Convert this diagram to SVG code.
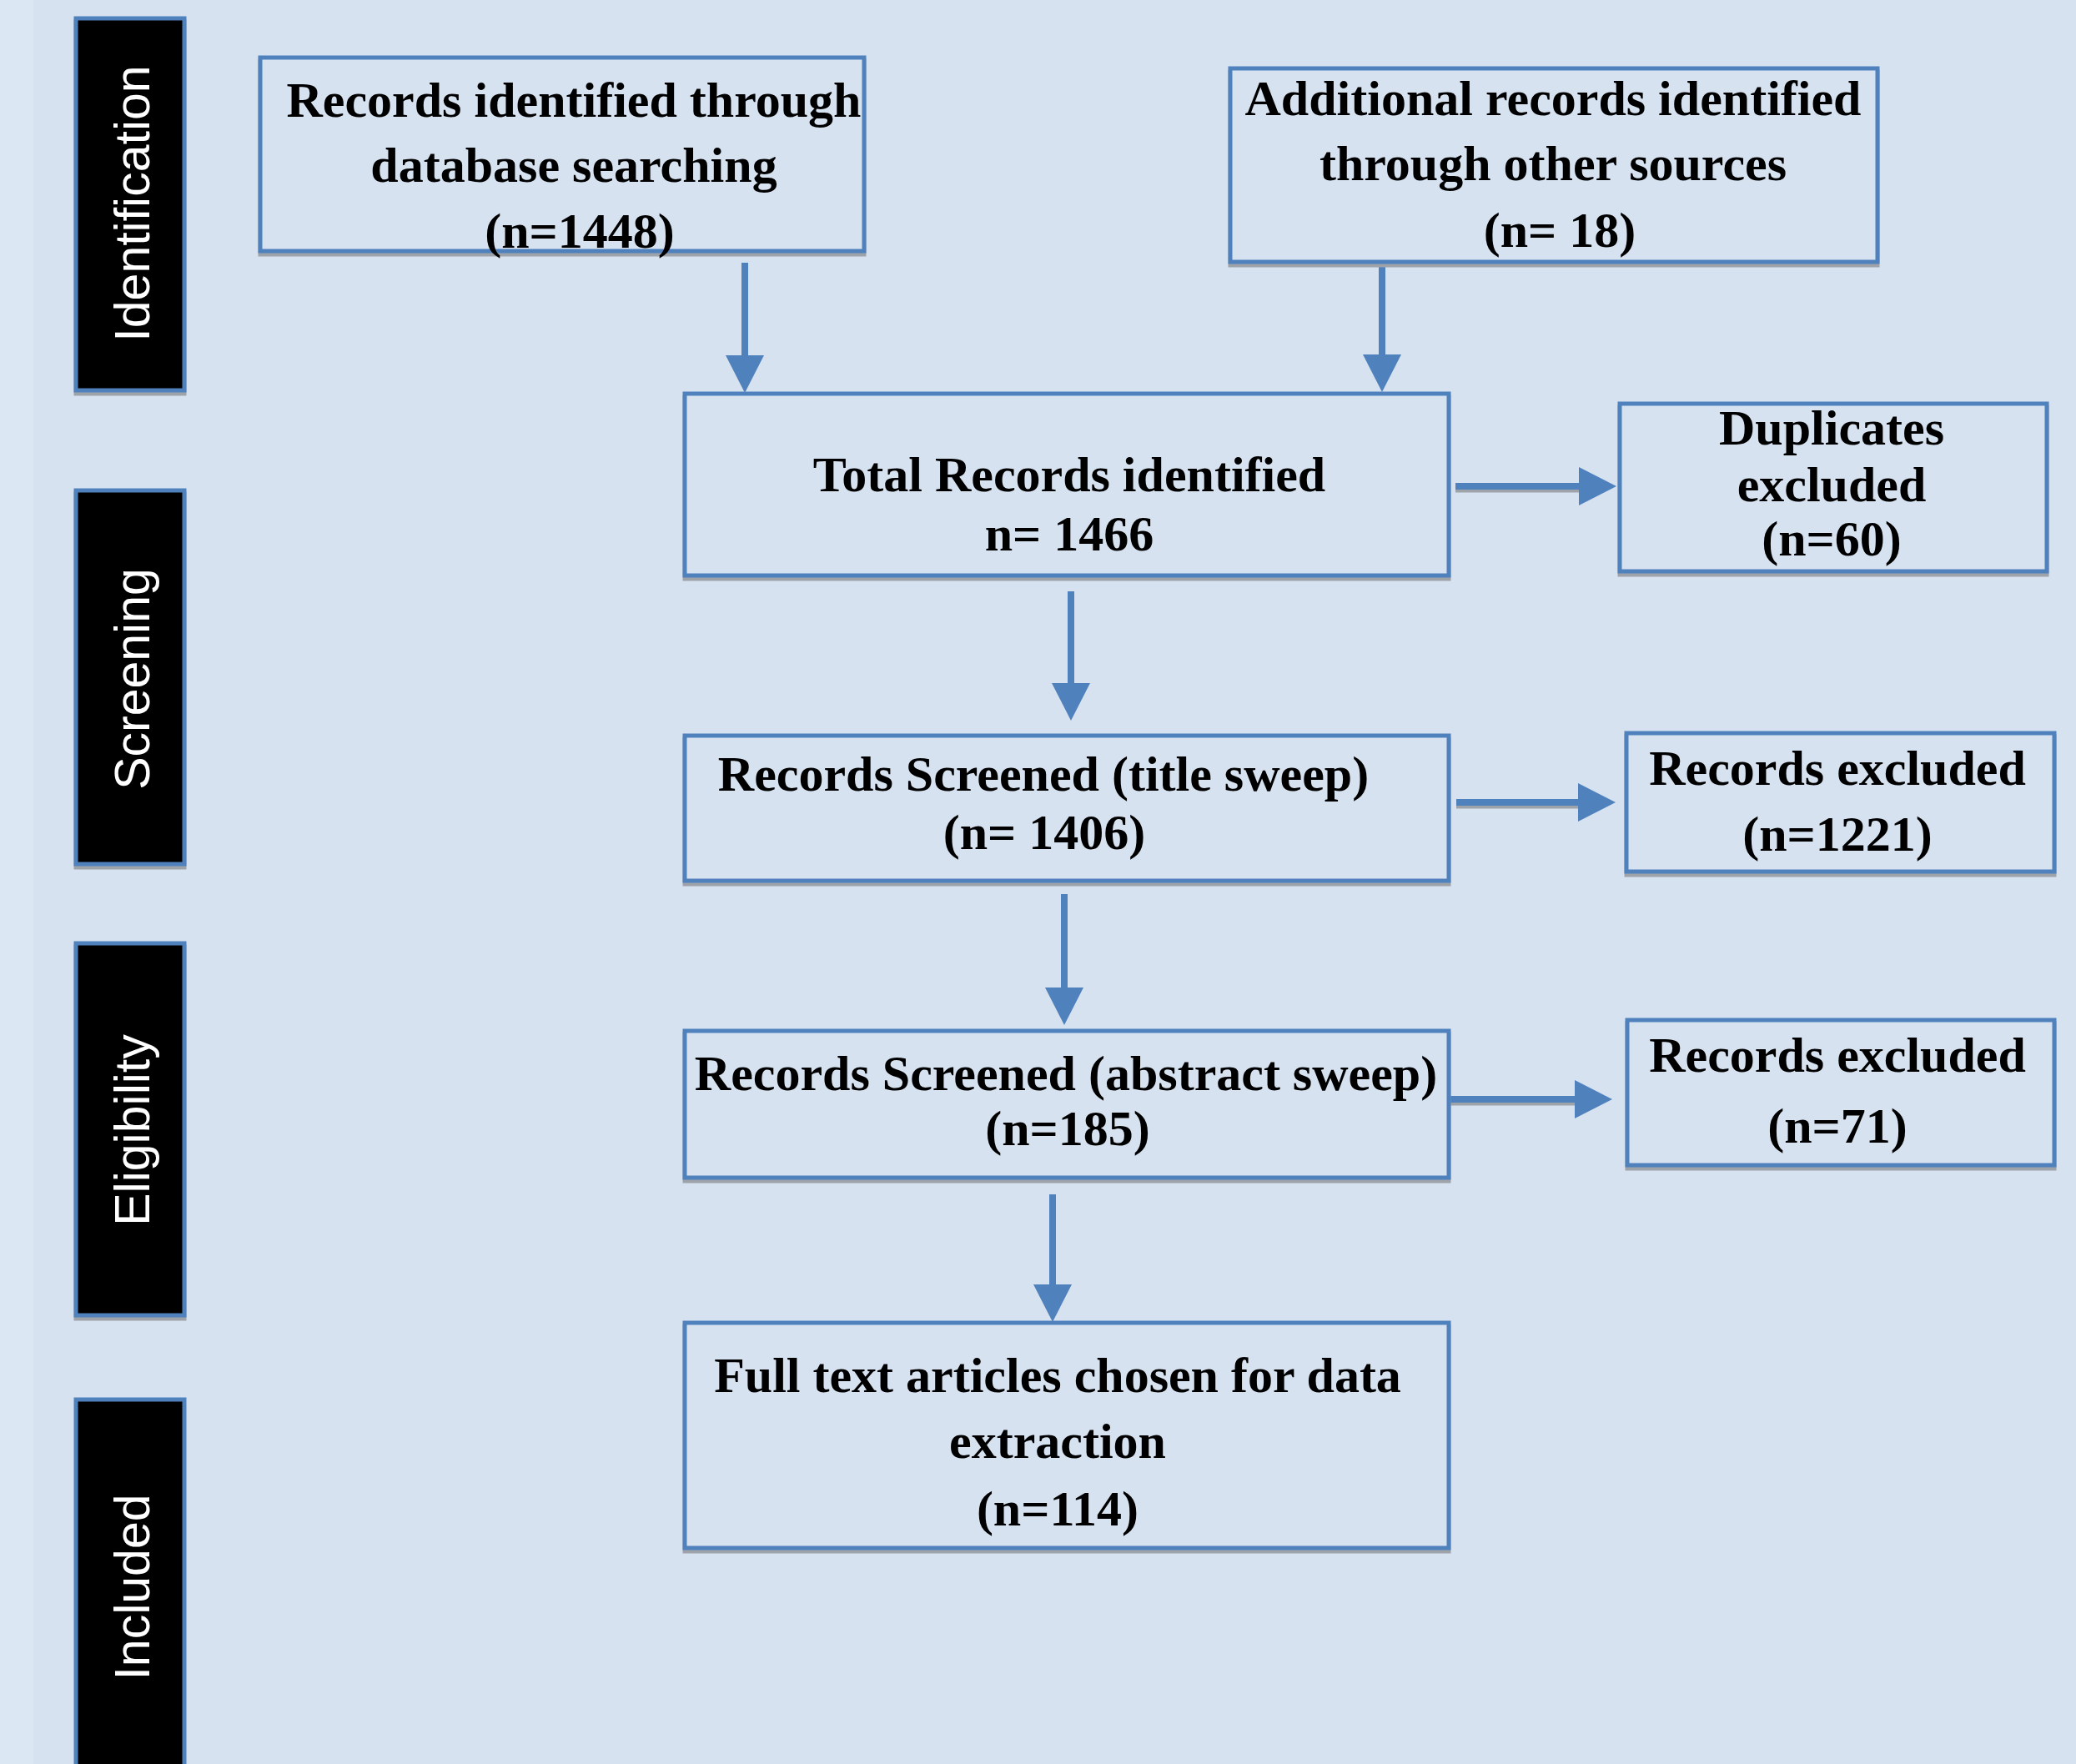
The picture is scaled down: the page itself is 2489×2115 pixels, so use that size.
<svg xmlns="http://www.w3.org/2000/svg" width="2489" height="2115" viewBox="0 0 2489 2115">
<defs>
<style>
.bg{fill:#D7E2F0}
.strip{fill:#DCE7F4}
.box{fill:#D7E2F0;stroke:#4F81BD;stroke-width:5}
.shadow{fill:none;stroke:#9EA3AA;stroke-width:5}
.bar{fill:#000000;stroke:#4F81BD;stroke-width:5}
.bartxt{font-family:"Liberation Sans",Arial,sans-serif;font-size:59px;fill:#FFFFFF;text-anchor:middle}
.t{font-family:"Liberation Serif","Times New Roman",serif;font-weight:bold;font-size:60px;fill:#000000;text-anchor:middle}
.conn{stroke:#4F81BD;stroke-width:8;fill:none}
.connsh{stroke:#9EA3AA;stroke-width:5;fill:none}
</style>
<marker id="ah" markerUnits="userSpaceOnUse" markerWidth="46" markerHeight="48" refX="0" refY="24" orient="auto" viewBox="0 0 46 48">
<path d="M0,1 L45,24 L0,47 z" fill="#4F81BD"/>
</marker>
</defs>
<rect class="bg" x="0" y="0" width="2489" height="2115"/>
<rect class="strip" x="0" y="0" width="40" height="2115"/>

<g id="bar-identification">
<rect class="shadow" x="91" y="26" width="130" height="446"/>
<rect class="bar" x="91" y="22" width="130" height="446"/>
<text class="bartxt" transform="translate(179,244) rotate(-90)">Identification</text>
</g>
<g id="bar-screening">
<rect class="shadow" x="91" y="592" width="130" height="448"/>
<rect class="bar" x="91" y="588" width="130" height="448"/>
<text class="bartxt" transform="translate(179,814) rotate(-90)">Screening</text>
</g>
<g id="bar-eligibility">
<rect class="shadow" x="91" y="1135" width="130" height="446"/>
<rect class="bar" x="91" y="1131" width="130" height="446"/>
<text class="bartxt" transform="translate(179,1355) rotate(-90)">Eligibility</text>
</g>
<g id="bar-included">
<rect class="bar" x="91" y="1678" width="130" height="470"/>
<text class="bartxt" transform="translate(179,1903) rotate(-90)">Included</text>
</g>

<g id="connectors">
<line class="conn" x1="893" y1="315" x2="893" y2="426" marker-end="url(#ah)"/>
<line class="conn" x1="1657" y1="320" x2="1657" y2="425" marker-end="url(#ah)"/>
<line class="connsh" x1="1745" y1="588" x2="1893" y2="588"/>
<line class="conn" x1="1745" y1="583" x2="1893" y2="583" marker-end="url(#ah)"/>
<line class="conn" x1="1284" y1="709" x2="1284" y2="819" marker-end="url(#ah)"/>
<line class="connsh" x1="1746" y1="967" x2="1892" y2="967"/>
<line class="conn" x1="1746" y1="962" x2="1892" y2="962" marker-end="url(#ah)"/>
<line class="conn" x1="1276" y1="1072" x2="1276" y2="1184" marker-end="url(#ah)"/>
<line class="connsh" x1="1739" y1="1323" x2="1888" y2="1323"/>
<line class="conn" x1="1739" y1="1318" x2="1888" y2="1318" marker-end="url(#ah)"/>
<line class="conn" x1="1262" y1="1432" x2="1262" y2="1540" marker-end="url(#ah)"/>
</g>

<g id="node-database">
<rect class="shadow" x="312" y="73" width="724" height="232"/>
<rect class="box" x="312" y="69" width="724" height="232"/>
<text class="t" x="688" y="140">Records identified through</text>
<text class="t" x="688" y="218">database searching</text>
<text class="t" x="695" y="297">(n=1448)</text>
</g>
<g id="node-other">
<rect class="shadow" x="1475" y="86" width="776" height="232"/>
<rect class="box" x="1475" y="82" width="776" height="232"/>
<text class="t" x="1862" y="138">Additional records identified</text>
<text class="t" x="1862" y="216">through other sources</text>
<text class="t" x="1870" y="296">(n= 18)</text>
</g>
<g id="node-total">
<rect class="shadow" x="821" y="476" width="916" height="218"/>
<rect class="box" x="821" y="472" width="916" height="218"/>
<text class="t" x="1282" y="589">Total Records identified</text>
<text class="t" x="1282" y="660">n= 1466</text>
</g>
<g id="node-duplicates">
<rect class="shadow" x="1942" y="488" width="512" height="201"/>
<rect class="box" x="1942" y="484" width="512" height="201"/>
<text class="t" x="2196" y="533">Duplicates</text>
<text class="t" x="2196" y="601">excluded</text>
<text class="t" x="2196" y="666">(n=60)</text>
</g>
<g id="node-title">
<rect class="shadow" x="821" y="886" width="916" height="174"/>
<rect class="box" x="821" y="882" width="916" height="174"/>
<text class="t" x="1251" y="948">Records Screened (title sweep)</text>
<text class="t" x="1252" y="1018">(n= 1406)</text>
</g>
<g id="node-excl1">
<rect class="shadow" x="1950" y="883" width="513" height="166"/>
<rect class="box" x="1950" y="879" width="513" height="166"/>
<text class="t" x="2203" y="941">Records excluded</text>
<text class="t" x="2203" y="1020">(n=1221)</text>
</g>
<g id="node-abstract">
<rect class="shadow" x="821" y="1240" width="916" height="176"/>
<rect class="box" x="821" y="1236" width="916" height="176"/>
<text class="t" x="1278" y="1307">Records Screened (abstract sweep)</text>
<text class="t" x="1280" y="1373">(n=185)</text>
</g>
<g id="node-excl2">
<rect class="shadow" x="1951" y="1227" width="512" height="174"/>
<rect class="box" x="1951" y="1223" width="512" height="174"/>
<text class="t" x="2203" y="1285">Records excluded</text>
<text class="t" x="2203" y="1370">(n=71)</text>
</g>
<g id="node-full">
<rect class="shadow" x="821" y="1590" width="916" height="270"/>
<rect class="box" x="821" y="1586" width="916" height="270"/>
<text class="t" x="1268" y="1669">Full text articles chosen for data</text>
<text class="t" x="1268" y="1748">extraction</text>
<text class="t" x="1268" y="1829">(n=114)</text>
</g>
</svg>
